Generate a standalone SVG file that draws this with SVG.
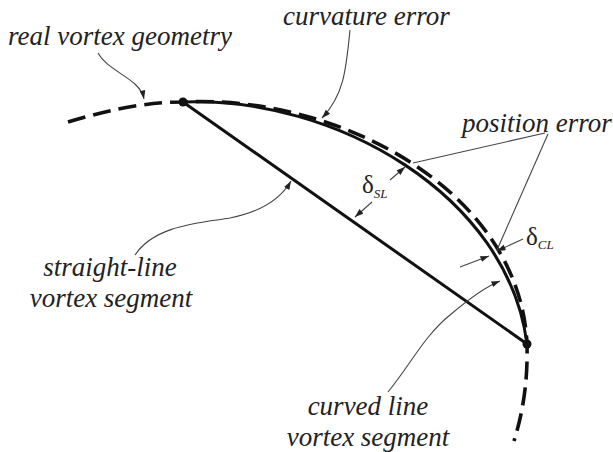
<svg xmlns="http://www.w3.org/2000/svg" width="613" height="452" viewBox="0 0 613 452">
<style>
.lbl{font-family:'Liberation Serif','Times New Roman','DejaVu Serif',serif;font-style:italic;font-size:27px;fill:#222}
.dl{font-family:'Liberation Serif','Times New Roman','DejaVu Serif',serif;font-size:25px;fill:#222}
.sub{font-family:'Liberation Serif','Times New Roman','DejaVu Serif',serif;font-style:italic;font-size:13px;fill:#222}
.lead{fill:none;stroke:#444;stroke-width:1.1}
.main{fill:none;stroke:#111;stroke-width:3}
.dash{fill:none;stroke:#111;stroke-width:3.6;stroke-dasharray:18 8}
</style>
<defs>
<marker id="ah" viewBox="0 0 10 7" refX="10" refY="3.5" markerWidth="9" markerHeight="6" markerUnits="userSpaceOnUse" orient="auto">
<path d="M0,0 L10,3.5 L0,7 z" fill="#222"/>
</marker>
</defs>
<rect width="613" height="452" fill="#fff"/>
<g id="real-geometry">
<path class="dash" d="M68,122 C115,108 150,102 183,102 C338,94 520,190 527,344 C528,385 522,415 514,441"/>
</g>
<g id="curved-segment">
<path class="main" d="M183,102 C335,96 508,195 527,344"/>
</g>
<g id="straight-segment">
<line class="main" x1="183" y1="102" x2="527" y2="344" stroke-width="2.8"/>
</g>
<g id="endpoints">
<circle cx="183" cy="102" r="4.5" fill="#111"/>
<circle cx="527" cy="344" r="4.5" fill="#111"/>
</g>
<g id="connectors">
<path class="lead" marker-end="url(#ah)" d="M98,53 C108,72 140,78 144,99"/>
<path class="lead" marker-end="url(#ah)" d="M350,30 C346,70 344,95 322,118"/>
<path class="lead" marker-end="url(#ah)" d="M135,255 C155,225 200,223 230,218 C260,212 280,200 291,181"/>
<path class="lead" marker-end="url(#ah)" d="M388,392 C410,365 425,335 450,315 C470,298 485,287 500,281"/>
<line class="lead" x1="545" y1="133" x2="413" y2="163"/>
<line class="lead" x1="548" y1="134" x2="497" y2="250"/>
<line class="lead" marker-end="url(#ah)" x1="390" y1="180" x2="405" y2="167"/>
<line class="lead" marker-end="url(#ah)" x1="372" y1="202" x2="355" y2="217"/>
<line class="lead" marker-end="url(#ah)" x1="523" y1="239" x2="497" y2="251"/>
<line class="lead" marker-end="url(#ah)" x1="460" y1="267" x2="489" y2="256"/>
</g>
<g id="labels">
<text class="lbl" x="8" y="45">real vortex geometry</text>
<text class="lbl" x="283" y="25">curvature error</text>
<text class="lbl" x="462" y="132">position error</text>
<text class="lbl" x="110" y="276" text-anchor="middle">straight-line</text>
<text class="lbl" x="111" y="307" text-anchor="middle">vortex segment</text>
<text class="lbl" x="368" y="415" text-anchor="middle">curved line</text>
<text class="lbl" x="368" y="446" text-anchor="middle">vortex segment</text>
<text class="dl" x="362" y="193">δ<tspan class="sub" dy="5">SL</tspan></text>
<text class="dl" x="526" y="245">δ<tspan class="sub" dy="4">CL</tspan></text>
</g>
</svg>
